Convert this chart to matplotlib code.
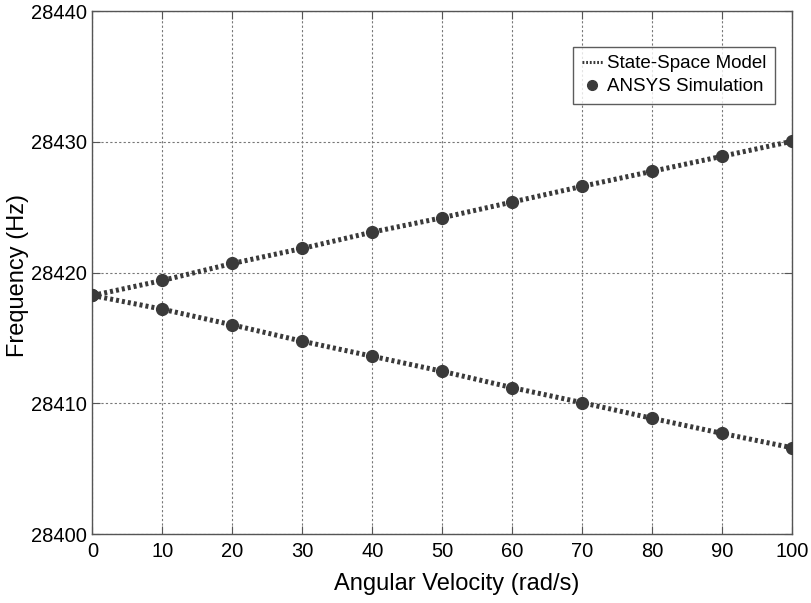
import matplotlib
matplotlib.use("Agg")
import matplotlib.pyplot as plt

# Angular velocity sweep (rad/s)
omega = [0, 10, 20, 30, 40, 50, 60, 70, 80, 90, 100]

# Split frequencies (Hz) of the two modes
upper_freq = [28418.25, 28419.4, 28420.7, 28421.85, 28423.1, 28424.2,
              28425.4, 28426.6, 28427.75, 28428.9, 28430.05]
lower_freq = [28418.25, 28417.2, 28416.0, 28414.75, 28413.6, 28412.45,
              28411.2, 28410.05, 28408.85, 28407.7, 28406.6]

x_ticks = [0, 10, 20, 30, 40, 50, 60, 70, 80, 90, 100]
y_ticks = [28400, 28410, 28420, 28430, 28440]

plt.rcParams["font.family"] = ["Liberation Sans", "DejaVu Sans"]

fig = plt.figure(figsize=(8.11, 6.03), dpi=100)
ax = fig.add_axes([0.114, 0.1144, 0.8626, 0.867])

line_col = "#3a3a3a"
for freq in (upper_freq, lower_freq):
    ax.plot(omega, freq, linestyle=(0, (0.6, 0.6)), linewidth=3.6,
            color=line_col, zorder=3)
    ax.plot(omega, freq, linestyle="none", marker="o", markersize=8.5,
            color=line_col, zorder=4)

# legend proxies
h1, = ax.plot([], [], linestyle=(0, (0.6, 0.6)), linewidth=2.2, color=line_col,
              label="State-Space Model")
h2, = ax.plot([], [], linestyle="none", marker="o", markersize=7,
              color=line_col, label="ANSYS Simulation")

ax.set_xlim(0, 100)
ax.set_ylim(28400, 28440)
ax.set_xticks(x_ticks)
ax.set_yticks(y_ticks)
ax.ticklabel_format(useOffset=False, style="plain", axis="y")
ax.grid(True, linestyle=(0, (2, 2)), color="#777777", linewidth=0.8)
ax.tick_params(direction="in", top=True, right=True, labelsize=14.5,
               length=6, color="#555555")
ax.tick_params(axis="x", pad=6)
ax.tick_params(axis="y", pad=4)
for s in ax.spines.values():
    s.set_color("#555555")
    s.set_linewidth(1.0)

ax.set_xlabel("Angular Velocity (rad/s)", fontsize=17)
ax.set_ylabel("Frequency (Hz)", fontsize=17)
ax.xaxis.set_label_coords(0.52, -0.0957)
ax.xaxis.label.set_va("center")
ax.yaxis.set_label_coords(-0.106, 0.4936)
ax.yaxis.label.set_va("center")

leg = ax.legend(handles=[h1, h2], loc="upper right", fontsize=13.5,
                bbox_to_anchor=(0.9757, 0.9317), frameon=True, fancybox=False,
                handlelength=1.1, handletextpad=0.25, borderpad=0.45,
                labelspacing=0.3, borderaxespad=0.0)
leg.get_frame().set_edgecolor("#333333")
leg.get_frame().set_linewidth(1.0)

fig.savefig("out.png", dpi=100)
